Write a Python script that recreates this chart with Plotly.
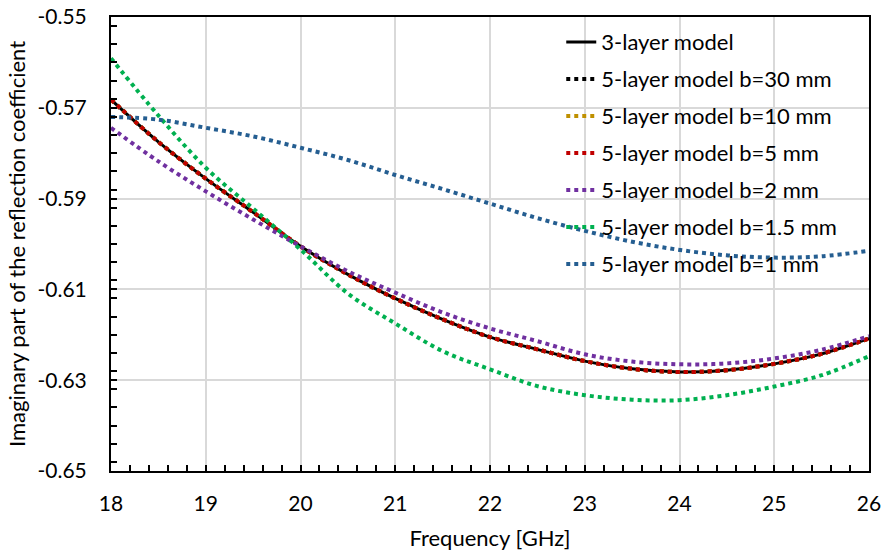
import plotly.graph_objects as go

freq = [18, 18.5, 19, 19.5, 20, 20.5, 21, 21.5, 22, 22.5, 23, 23.5, 24, 24.5, 25, 25.5, 26]

three_layer = [-0.5682, -0.5775, -0.5856, -0.5930, -0.6005, -0.6067, -0.6120, -0.6166, -0.6205,
               -0.6232, -0.6258, -0.6275, -0.6282, -0.6278, -0.6264, -0.6242, -0.6208]
b30 = list(three_layer)
b10 = list(three_layer)
b5 = list(three_layer)
b2 = [-0.5744, -0.5818, -0.5884, -0.5946, -0.6005, -0.6060, -0.6107, -0.6151, -0.6186,
      -0.6214, -0.6243, -0.6259, -0.6265, -0.6263, -0.6252, -0.6233, -0.6203]
b15 = [-0.5591, -0.5717, -0.5832, -0.5922, -0.6012, -0.6109, -0.6175, -0.6236, -0.6276,
       -0.6313, -0.6333, -0.6343, -0.6344, -0.6333, -0.6314, -0.6289, -0.6247]
b1 = [-0.5720, -0.5726, -0.5744, -0.5763, -0.5788, -0.5815, -0.5848, -0.5879, -0.5911,
      -0.5943, -0.5971, -0.5995, -0.6013, -0.6025, -0.6030, -0.6027, -0.6015]

y_tick_vals = [-0.55, -0.57, -0.59, -0.61, -0.63, -0.65]
y_tick_text = ["-0.55", "-0.57", "-0.59", "-0.61", "-0.63", "-0.65"]
x_tick_vals = [18, 19, 20, 21, 22, 23, 24, 25, 26]

names = ["3-layer model", "5-layer model b=30 mm", "5-layer model b=10 mm", "5-layer model b=5 mm",
         "5-layer model b=2 mm", "5-layer model b=1.5 mm", "5-layer model b=1 mm"]
series = [three_layer, b30, b10, b5, b2, b15, b1]
colors = ["#000000", "#000000", "#BF9000", "#C00000", "#7030A0", "#00B050", "#255E91"]

FONT = "Lato"
fig = go.Figure()
for i, (nm, ys, c) in enumerate(zip(names, series, colors)):
    if i == 0:
        line = dict(color=c, width=3, shape="spline")
    else:
        line = dict(color=c, width=4, dash="4px,4px", shape="spline")
    fig.add_trace(go.Scatter(x=freq, y=ys, mode="lines", name=nm, line=line,
                             legendgroup=f"g{i}"))

fig.update_layout(
    width=883, height=551,
    margin=dict(l=111, r=14, t=17, b=80),
    plot_bgcolor="white", paper_bgcolor="white",
    font=dict(family=FONT, size=21, color="#000000"),
    legend=dict(x=0.594, y=0.991, xanchor="left", yanchor="top",
                bgcolor="rgba(0,0,0,0)", traceorder="grouped", tracegroupgap=5.4,
                font=dict(family=FONT, size=22), itemwidth=30),
    showlegend=True,
)
fig.update_xaxes(
    range=[18, 26], tickvals=x_tick_vals, automargin=False,
    showgrid=True, gridcolor="#D9D9D9", gridwidth=2,
    showline=True, linecolor="#000000", linewidth=2, mirror=True,
    ticks="inside", ticklen=6, tickwidth=1.5, tickcolor="#000000",
    minor=dict(dtick=0.2, ticks="inside", ticklen=6, tickwidth=1.5, tickcolor="#000000", showgrid=False),
    ticklabelstandoff=13,
    tickfont=dict(family=FONT, size=21),
    title=dict(text="Frequency [GHz]", font=dict(family=FONT, size=22), standoff=18),
    zeroline=False,
)
fig.update_yaxes(
    range=[-0.65, -0.55], tickvals=y_tick_vals, ticktext=y_tick_text, automargin="left+width",
    showgrid=True, gridcolor="#D9D9D9", gridwidth=2,
    showline=True, linecolor="#000000", linewidth=2, mirror=True,
    ticks="inside", ticklen=6, tickwidth=1.5, tickcolor="#000000",
    minor=dict(dtick=0.004, ticks="inside", ticklen=6, tickwidth=1.5, tickcolor="#000000", showgrid=False),
    ticklabelstandoff=18,
    tickfont=dict(family=FONT, size=21),
    title=dict(text="Imaginary part of the reflection coefficient", font=dict(family=FONT, size=22), standoff=6),
    zeroline=False,
)

fig.write_html("out.html")
